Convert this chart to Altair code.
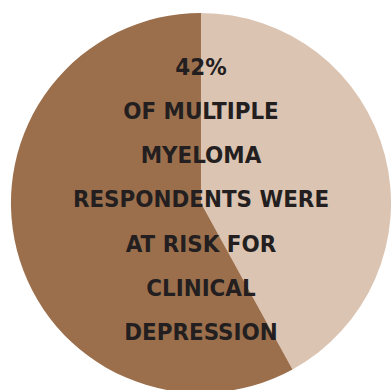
import altair as alt
import pandas as pd

categories = ["At risk", "Not at risk"]
values = [42, 58]
order = [0, 1]
colors = ["#dcc4b2", "#9c6f4c"]
lines = ["42%", "OF MULTIPLE", "MYELOMA", "RESPONDENTS WERE", "AT RISK FOR", "CLINICAL", "DEPRESSION"]

df = pd.DataFrame({"category": categories, "value": values, "order": order})

pie = alt.Chart(df).mark_arc(radius=191).encode(
    theta=alt.Theta("value:Q", stack=True),
    color=alt.Color("category:N", scale=alt.Scale(domain=categories, range=colors), legend=None),
    order=alt.Order("order:Q"),
    x=alt.value(202),
    y=alt.value(203),
)

txt = alt.Chart(pd.DataFrame({"k": [0]})).mark_text(
    font="Liberation Sans Narrow, DejaVu Sans Condensed, sans-serif",
    fontWeight="bold",
    fontSize=24,
    color="#231f20",
    align="center",
    baseline="middle",
    lineHeight=44.5,
).encode(
    text=alt.value(lines),
    x=alt.value(202),
    y=alt.value(67),
)

chart = alt.layer(pie, txt).properties(
    width=391, height=390, padding=0, background="white"
).configure_view(stroke=None)

chart.save("out.html", embed_options={"renderer": "svg", "actions": False})
